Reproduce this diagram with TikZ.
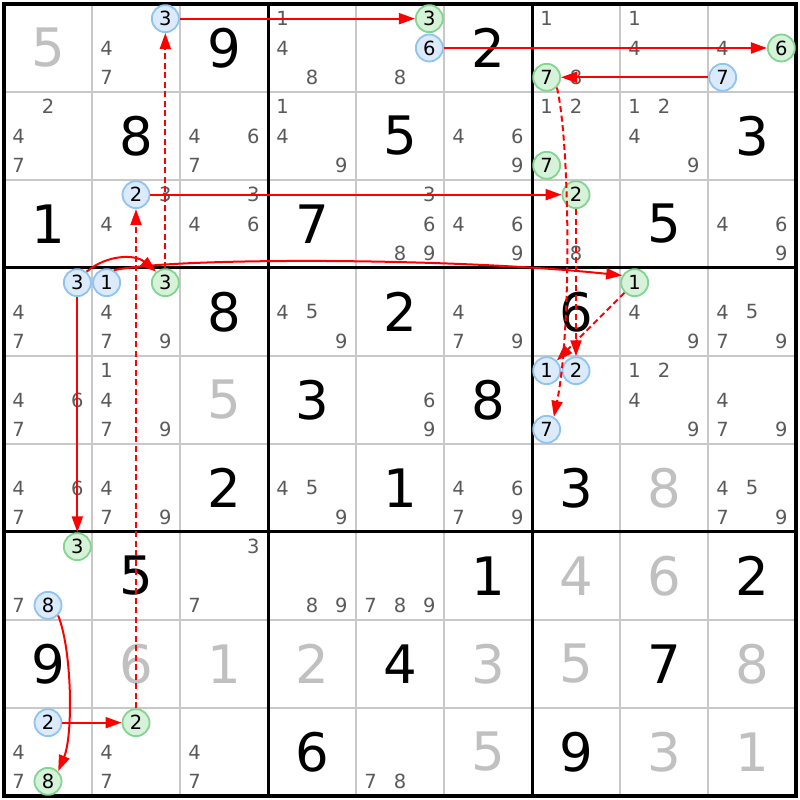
\documentclass[tikz,border=0pt]{standalone}
\usepackage{fontspec}
\setmainfont{DejaVu Sans}
\usetikzlibrary{arrows.meta}
\definecolor{candgray}{HTML}{5A5A5A}
\definecolor{fadegray}{HTML}{C0C0C0}
\definecolor{gridgray}{HTML}{C8C8C8}
\definecolor{bfill}{HTML}{DCEBFB}
\definecolor{bline}{HTML}{8EC3F2}
\definecolor{gfill}{HTML}{D6F2D8}
\definecolor{gline}{HTML}{82D590}
\definecolor{arrred}{HTML}{FF0000}
\newcommand\candpos[3]{({4+88*(#2-1)+14.667+29.333*mod(#3-1,3)},{796-88*(#1-1)-14.667-29.333*div(#3-1,3)})}
\newcommand\SCands[3]{\foreach \p in {#3}{\node[cand] (r#1c#2n\p) at \candpos{#1}{#2}{\p} {\p};}}
\newcommand\SBlue[3]{\node[bcirc] (r#1c#2n#3) at \candpos{#1}{#2}{#3} {#3};}
\newcommand\SGreen[3]{\node[gcirc] (r#1c#2n#3) at \candpos{#1}{#2}{#3} {#3};}
\newcommand\SGiven[3]{\node[given] (g#1c#2) at ({48+88*(#2-1)},{752-88*(#1-1)}) {#3};}
\newcommand\SFaded[3]{\node[faded] (g#1c#2) at ({48+88*(#2-1)},{752-88*(#1-1)}) {#3};}
\tikzset{
  cand/.style={inner sep=0pt, text=candgray, font=\fontsize{19.5}{19.5}\selectfont},
  given/.style={inner sep=0pt, text=black, font=\fontsize{53}{53}\selectfont},
  faded/.style={inner sep=0pt, text=fadegray, font=\fontsize{53}{53}\selectfont},
  circbase/.style={circle, minimum size=27pt, inner sep=0pt, line width=1.8pt, text=black, font=\fontsize{19.5}{19.5}\selectfont},
  bcirc/.style={circbase, draw=bline, fill=bfill},
  gcirc/.style={circbase, draw=gline, fill=gfill},
  thinline/.style={draw=gridgray, line width=1.8pt},
  thickline/.style={draw=black, line width=3pt},
  arr/.style={draw=arrred, line width=2pt, -{Triangle[length=16pt,width=11pt]}},
  darr/.style={arr, dash pattern=on 6pt off 3.5pt}
}
\begin{document}
\begin{tikzpicture}[x=1pt,y=1pt]
\useasboundingbox (0,0) rectangle (800,800);
\fill[white] (0,0) rectangle (800,800);
% grid
\foreach \i in {1,2,4,5,7,8} {
  \draw[thinline] ({4+88*\i},4) -- ({4+88*\i},796);
  \draw[thinline] (4,{4+88*\i}) -- (796,{4+88*\i});
}
\foreach \i in {3,6} {
  \draw[thickline] ({4+88*\i},4) -- ({4+88*\i},796);
  \draw[thickline] (4,{4+88*\i}) -- (796,{4+88*\i});
}
\draw[draw=black, line width=3.5pt] (4,4) rectangle (796,796);
% row 1
\SFaded{1}{1}{5}
\SCands{1}{2}{4,7} \SBlue{1}{2}{3}
\SGiven{1}{3}{9}
\SCands{1}{4}{1,4,8}
\SCands{1}{5}{8} \SGreen{1}{5}{3} \SBlue{1}{5}{6}
\SGiven{1}{6}{2}
\SCands{1}{7}{1,8} \SGreen{1}{7}{7}
\SCands{1}{8}{1,4}
\SCands{1}{9}{4} \SGreen{1}{9}{6} \SBlue{1}{9}{7}
% row 2
\SCands{2}{1}{2,4,7}
\SGiven{2}{2}{8}
\SCands{2}{3}{4,6,7}
\SCands{2}{4}{1,4,9}
\SGiven{2}{5}{5}
\SCands{2}{6}{4,6,9}
\SCands{2}{7}{1,2} \SGreen{2}{7}{7}
\SCands{2}{8}{1,2,4,9}
\SGiven{2}{9}{3}
% row 3
\SGiven{3}{1}{1}
\SCands{3}{2}{3,4} \SBlue{3}{2}{2}
\SCands{3}{3}{3,4,6}
\SGiven{3}{4}{7}
\SCands{3}{5}{3,6,8,9}
\SCands{3}{6}{4,6,9}
\SCands{3}{7}{8} \SGreen{3}{7}{2}
\SGiven{3}{8}{5}
\SCands{3}{9}{4,6,9}
% row 4
\SCands{4}{1}{4,7} \SBlue{4}{1}{3}
\SCands{4}{2}{4,7,9} \SBlue{4}{2}{1} \SGreen{4}{2}{3}
\SGiven{4}{3}{8}
\SCands{4}{4}{4,5,9}
\SGiven{4}{5}{2}
\SCands{4}{6}{4,7,9}
\SGiven{4}{7}{6}
\SCands{4}{8}{4,9} \SGreen{4}{8}{1}
\SCands{4}{9}{4,5,7,9}
% row 5
\SCands{5}{1}{4,6,7}
\SCands{5}{2}{1,4,7,9}
\SFaded{5}{3}{5}
\SGiven{5}{4}{3}
\SCands{5}{5}{6,9}
\SGiven{5}{6}{8}
\SBlue{5}{7}{1} \SBlue{5}{7}{2} \SBlue{5}{7}{7}
\SCands{5}{8}{1,2,4,9}
\SCands{5}{9}{4,7,9}
% row 6
\SCands{6}{1}{4,6,7}
\SCands{6}{2}{4,7,9}
\SGiven{6}{3}{2}
\SCands{6}{4}{4,5,9}
\SGiven{6}{5}{1}
\SCands{6}{6}{4,6,7,9}
\SGiven{6}{7}{3}
\SFaded{6}{8}{8}
\SCands{6}{9}{4,5,7,9}
% row 7
\SCands{7}{1}{7} \SGreen{7}{1}{3} \SBlue{7}{1}{8}
\SGiven{7}{2}{5}
\SCands{7}{3}{3,7}
\SCands{7}{4}{8,9}
\SCands{7}{5}{7,8,9}
\SGiven{7}{6}{1}
\SFaded{7}{7}{4}
\SFaded{7}{8}{6}
\SGiven{7}{9}{2}
% row 8
\SGiven{8}{1}{9}
\SFaded{8}{2}{6}
\SFaded{8}{3}{1}
\SFaded{8}{4}{2}
\SGiven{8}{5}{4}
\SFaded{8}{6}{3}
\SFaded{8}{7}{5}
\SGiven{8}{8}{7}
\SFaded{8}{9}{8}
% row 9
\SCands{9}{1}{4,7} \SBlue{9}{1}{2} \SGreen{9}{1}{8}
\SCands{9}{2}{4,7} \SGreen{9}{2}{2}
\SCands{9}{3}{4,7}
\SGiven{9}{4}{6}
\SCands{9}{5}{7,8}
\SFaded{9}{6}{5}
\SGiven{9}{7}{9}
\SFaded{9}{8}{3}
\SFaded{9}{9}{1}
% links
\draw[arr] (r1c2n3) -- (r1c5n3);
\draw[arr] (r1c5n6) -- (r1c9n6);
\draw[arr] (r1c9n7) -- (r1c7n7);
\draw[darr] (r1c7n7.-45) .. controls +(13,-53) and +(18,87) .. (r5c7n7.60);
\draw[arr] (r3c2n2) -- (r3c7n2);
\draw[darr] (r3c7n2) -- (r5c7n2);
\draw[darr] (r4c8n1) -- (r5c7n1);
\draw[arr] (r4c2n1.60) .. controls +(61,13) and +(-170,18) .. (r4c8n1.150);
\draw[arr] (r4c1n3.50) to[bend left=40] (r4c2n3.130);
\draw[arr] (r4c1n3) -- (r7c1n3);
\draw[darr] (r9c2n2) -- (r3c2n2);
\draw[darr] (r4c2n3) -- (r1c2n3);
\draw[arr] (r7c1n8.-45) .. controls +(14,-35) and +(15,36) .. (r9c1n8.45);
\draw[arr] (r9c1n2) -- (r9c2n2);
\end{tikzpicture}
\end{document}
